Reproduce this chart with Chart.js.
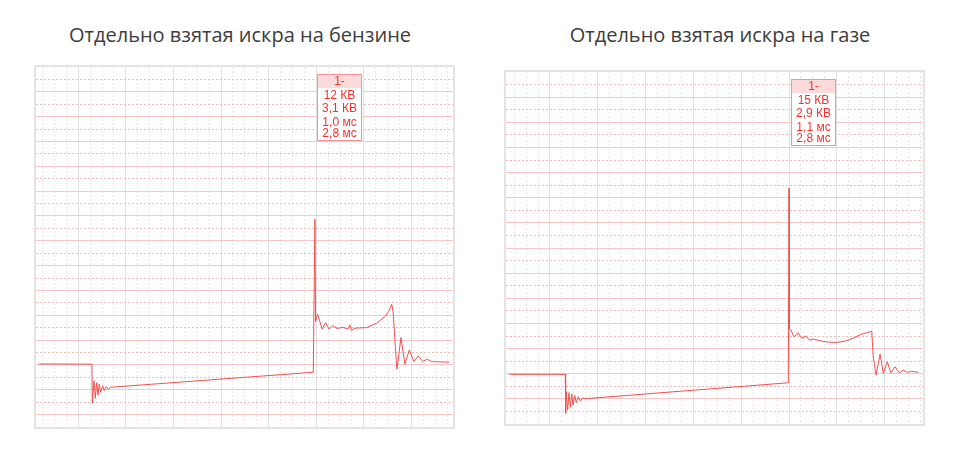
<!DOCTYPE html>
<html>
<head>
<meta charset="utf-8">
<script src="https://cdn.jsdelivr.net/npm/chart.js@4/dist/chart.umd.min.js"></script>
<style>
    body { margin: 0; background: #fff; width: 960px; height: 450px; position: relative; overflow: hidden; }
    .title { position: absolute; top: 22px; width: 480px; text-align: center; font: 20px "Open Sans", sans-serif; line-height: 26px; color: #3d3d3d; }
    .frame { position: absolute; border: 2px solid #e4e4e4; box-sizing: content-box; }
    .frame canvas { display: block; }
</style>
</head>
<body>
<div class="title" id="title-petrol" style="left:0"></div>
<div class="title" id="title-gas" style="left:480px"></div>
<div class="frame" style="left:34px; top:65px; width:417px; height:360px"><canvas id="petrol-chart" width="417" height="360"></canvas></div>
<div class="frame" style="left:504px; top:70px; width:417px; height:352px"><canvas id="gas-chart" width="417" height="352"></canvas></div>
<script>
// x: minor time divisions, y: minor voltage divisions
const titles = ['Отдельно взятая искра на бензине', 'Отдельно взятая искра на газе'];

const petrolTime = [-3.30, 1.15, 1.18, 1.32, 1.43, 1.55, 1.66, 1.76, 1.88, 2.05, 2.18, 2.35, 2.52, 2.72,
    19.75, 19.89, 19.94, 20.11, 20.50, 20.79, 21.07, 21.38, 21.74, 22.24, 22.66, 22.83, 22.97, 23.25,
    24.24, 25.08, 25.77, 26.08, 26.34, 26.47, 26.64, 26.78, 27.12, 27.45, 27.82, 28.21, 28.57, 28.94,
    29.33, 29.70, 31.18];
const petrolKV = [5.08, 5.06, 1.91, 3.73, 2.31, 3.57, 2.58, 3.44, 2.80, 3.33, 2.93, 3.25, 3.04, 3.20,
    4.41, 16.75, 8.49, 9.09, 7.88, 8.41, 7.88, 8.17, 7.94, 8.02, 7.90, 8.23, 7.77, 7.96,
    8.01, 8.36, 8.90, 9.30, 9.90, 9.17, 6.48, 4.65, 7.20, 5.06, 6.21, 5.27, 5.73, 5.27,
    5.46, 5.27, 5.22];

const gasTime = [-3.41, 1.28, 1.31, 1.36, 1.48, 1.59, 1.70, 1.82, 1.92, 2.07, 2.20, 2.37, 2.54, 2.74, 2.93,
    19.94, 20.00, 20.04, 20.14, 20.42, 20.78, 21.06, 21.42, 21.70, 22.03, 22.59, 23.29, 23.99, 24.69,
    25.38, 26.08, 26.78, 26.92, 27.05, 27.28, 27.62, 27.89, 28.23, 28.51, 28.87, 29.23, 29.56, 29.90,
    30.27, 30.82];
const gasKV = [3.95, 3.95, 0.85, 2.57, 1.11, 2.49, 1.33, 2.38, 1.51, 2.28, 1.69, 2.17, 1.85, 2.07, 2.01,
    3.28, 18.77, 7.60, 7.52, 6.93, 7.25, 6.81, 6.99, 6.67, 6.75, 6.62, 6.51, 6.49, 6.59,
    6.83, 7.15, 7.33, 7.39, 5.35, 3.89, 5.56, 4.03, 4.95, 4.07, 4.55, 4.07, 4.29, 4.11,
    4.19, 4.11];

const petrolReadout = ['12 КВ', '3,1 КВ', '1,0 мс', '2,8 мс'];
const gasReadout = ['15 КВ', '2,9 КВ', '1,1 мс', '2,8 мс'];
const readoutHead = '1-';

// small red measurement box hung next to the spark spike
const readoutBox = {
    id: 'readoutBox',
    afterDatasetsDraw(chart, args, opts) {
        const ctx = chart.ctx;
        const x = Math.round(chart.scales.x.getPixelForValue(opts.at)) + 2;
        const y = Math.round(chart.chartArea.top + opts.top);
        const w = 45, h = 67, head = 14;
        const rowY = [22, 34.5, 49, 60];
        ctx.save();
        ctx.fillStyle = '#fff';
        ctx.fillRect(x, y, w, h);
        ctx.fillStyle = '#fcdada';
        ctx.fillRect(x, y, w, head);
        ctx.strokeStyle = '#f49494';
        ctx.lineWidth = 1;
        ctx.strokeRect(x + 0.5, y + 0.5, w - 1, h - 1);
        ctx.fillStyle = '#ff2e2e';
        ctx.font = '12px "Liberation Sans", Arial, sans-serif';
        ctx.textAlign = 'center';
        ctx.textBaseline = 'middle';
        ctx.fillText(readoutHead, x + w / 2, y + 7.5);
        opts.lines.forEach((t, i) => ctx.fillText(t, x + w / 2, y + rowY[i]));
        ctx.restore();
    }
};

function innerTicks(min, max) {
    const out = [];
    for (let v = Math.ceil(min); v <= Math.floor(max); v++) {
        if (v > min + 0.05 && v < max - 0.05) out.push({ value: v });
    }
    return out;
}

function createScope(canvasId, time, kv, range, solidOdd, readout) {
    const points = time.map((t, i) => ({ x: t, y: kv[i] }));
    const peak = kv.indexOf(Math.max(...kv));
    const isSolidRow = v => (Math.abs(v % 2) === 1) === solidOdd;

    return new Chart(document.getElementById(canvasId), {
        type: 'line',
        data: {
            datasets: [{
                data: points,
                borderColor: '#f25050',
                borderWidth: 1,
                pointRadius: 0,
                tension: 0
            }]
        },
        options: {
            responsive: false,
            animation: false,
            events: [],
            layout: { padding: 0 },
            plugins: {
                legend: { display: false },
                tooltip: { enabled: false },
                readoutBox: { at: time[peak], top: 6.5, lines: readout }
            },
            scales: {
                x: {
                    type: 'linear',
                    min: range.xMin,
                    max: range.xMax,
                    afterBuildTicks: axis => { axis.ticks = innerTicks(range.xMin, range.xMax); },
                    ticks: { display: false },
                    grid: {
                        drawTicks: false,
                        color: ctx => (ctx.tick.value % 4 === 0 ? '#e0e0e0' : '#e6e6e6'),
                        lineWidth: 1
                    },
                    border: {
                        display: false,
                        dash: ctx => (ctx.tick && ctx.tick.value % 4 === 0 ? [] : [2, 2])
                    }
                },
                y: {
                    type: 'linear',
                    min: 0,
                    max: range.yMax,
                    afterBuildTicks: axis => { axis.ticks = innerTicks(0, range.yMax); },
                    ticks: { display: false },
                    grid: {
                        drawTicks: false,
                        color: ctx => (isSolidRow(ctx.tick.value) ? '#f8c6c6' : '#f5bcbc'),
                        lineWidth: 1,
                        z: 0
                    },
                    border: {
                        display: false,
                        dash: ctx => (ctx.tick && isSolidRow(ctx.tick.value) ? [] : [2, 2])
                    }
                }
            }
        },
        plugins: [readoutBox]
    });
}

document.addEventListener('DOMContentLoaded', function () {
    document.getElementById('title-petrol').textContent = titles[0];
    document.getElementById('title-gas').textContent = titles[1];

    createScope('petrol-chart', petrolTime, petrolKV, { xMin: -3.55, xMax: 31.49, yMax: 29 }, true, petrolReadout);
    createScope('gas-chart', gasTime, gasKV, { xMin: -3.68, xMax: 31.21, yMax: 28 }, false, gasReadout);
});
</script>
</body>
</html>
